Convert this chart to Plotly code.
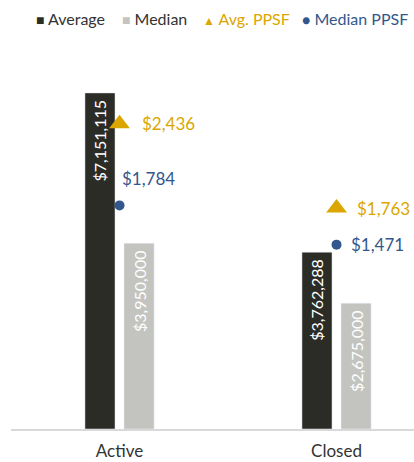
"""Average / median price and PPSF chart, Active vs Closed."""

import plotly.graph_objects as go

statuses = ["Active", "Closed"]
average_price = [7151115, 3762288]
median_price = [3950000, 2675000]
avg_ppsf = [2436, 1763]
median_ppsf = [1784, 1471]

DARK = "#2c2c27"
LIGHT = "#c3c4c0"
GOLD = "#dba600"
BLUE = "#33578c"
TEXT = "#333333"
FONT = "Lato"


def money(v):
    return f"${v:,.0f}"


fig = go.Figure()

fig.add_trace(go.Bar(
    x=statuses, y=average_price, name="Average",
    marker_color=DARK,
    text=[money(v) + "\u00a0" for v in average_price],
    textposition="inside", insidetextanchor="end", textangle=-90,
    textfont=dict(color="white", size=16, family=FONT),
))
fig.add_trace(go.Bar(
    x=statuses, y=median_price, name="Median",
    marker_color=LIGHT,
    text=[money(v) + "\u00a0" for v in median_price],
    textposition="inside", insidetextanchor="end", textangle=-90,
    textfont=dict(color="white", size=16, family=FONT),
))
fig.add_trace(go.Scatter(
    x=statuses, y=avg_ppsf, yaxis="y2", mode="markers", name="Avg. PPSF",
    marker=dict(symbol="triangle-up", size=18, color=GOLD),
    cliponaxis=False,
))
fig.add_trace(go.Scatter(
    x=statuses, y=median_ppsf, yaxis="y2", mode="markers", name="Median PPSF",
    marker=dict(symbol="circle", size=10, color=BLUE),
    cliponaxis=False,
))

# point labels for the PPSF markers
label_shift = {"Avg. PPSF": [(20, 0), (18, 0)], "Median PPSF": [(0, 27), (12, 0)]}
for series, values, color in [("Avg. PPSF", avg_ppsf, GOLD), ("Median PPSF", median_ppsf, BLUE)]:
    for status, v, (dx, dy) in zip(statuses, values, label_shift[series]):
        fig.add_annotation(
            x=status, y=v, xref="x", yref="y2", text=money(v), showarrow=False,
            xanchor="left", yanchor="middle", xshift=dx, yshift=dy,
            font=dict(color=color, size=17, family=FONT),
        )

# legend drawn as a single row of text items
legend_items = [
    ("Average", DARK, TEXT, "■", 14, 34),
    ("Median", LIGHT, TEXT, "■", 14, 120),
    ("Avg. PPSF", GOLD, GOLD, "▲", 12, 201),
    ("Median PPSF", BLUE, BLUE, "●", 14, 300),
]
for label, sym_color, txt_color, sym, sym_size, px_x in legend_items:
    fig.add_annotation(
        xref="paper", yref="paper", x=0, y=1, xshift=px_x - 11, yshift=35,
        xanchor="left", yanchor="middle", showarrow=False,
        text=f"<span style='color:{sym_color};font-size:{sym_size}px'>{sym}</span>"
             f"<span style='color:{txt_color}'> {label}</span>",
        font=dict(size=16, family=FONT, color=txt_color),
    )

fig.update_layout(
    width=414, height=462,
    margin=dict(l=11, r=0, t=53, b=33, autoexpand=False),
    paper_bgcolor="white", plot_bgcolor="white",
    font=dict(family=FONT, color=TEXT, size=15),
    barmode="group", bargap=0.64, bargroupgap=0.23,
    showlegend=False,
    xaxis=dict(range=[-0.5, 1.357], showline=True, linecolor="#d9d9d9", linewidth=2,
               ticks="", ticklabelstandoff=6, tickfont=dict(size=17, color=TEXT)),
    yaxis=dict(range=[0, 8000000], visible=False, showgrid=False),
    yaxis2=dict(range=[0, 3000], overlaying="y", side="right", visible=False, showgrid=False),
)

# drop the default page margin so the figure fills the window
fig.write_html("out.html", config={"displayModeBar": False},
               post_script="document.body.style.margin='0px';")
